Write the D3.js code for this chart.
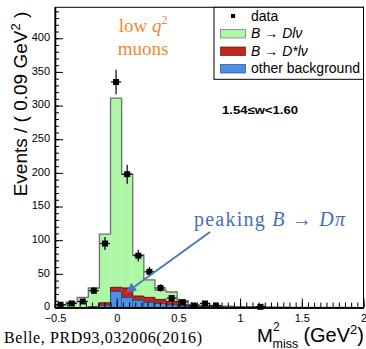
<!DOCTYPE html>
<html><head><meta charset="utf-8">
<script src="https://cdn.jsdelivr.net/npm/d3@7"></script>
<style>body{margin:0;background:#fff}svg{display:block}</style>
</head><body>
<svg id="c" width="366" height="349"></svg>
<script>
// ---- data ----
const binCenters = [-0.455,-0.365,-0.275,-0.185,-0.095,-0.005,0.085,0.175,0.265,0.355,0.445,0.535,0.625,0.715,0.805,0.895,0.985,1.075,1.165,1.255,1.345,1.435,1.525,1.615,1.705,1.795,1.885];
const binWidth = 0.09;
const dataCounts = [4,6,9,25,95,335,198,77,53,29,14,8,3,6,3,0,0,0,1,0,0,0,0,0,0,0,0];
const otherBkg = [0,0,0,0.5,3,24,15,11,8,6,4,2,1,1,0.5,0.3,0.2,0.2,0.1,0.1,0,0,0,0,0,0,0];
const dstarLnu = [0,0,0,0.5,4,6,14,6,7,6,5,2,1,1,0.5,0.2,0.3,0.1,0.1,0,0,0,0,0,0,0,0];
const dLnu     = [4,8,15,28,102,281,169,61,26,14,14,6,2,1,1,1.5,0.5,0.7,0.8,0.4,0.5,0.3,0.3,0.2,0.2,0.1,0.1];
const xMajorTicks = [-0.5,0,0.5,1,1.5,2];
const xTickLabels = ["\u22120.5","0","0.5","1","1.5","2"];
const yMajorTicks = [0,50,100,150,200,250,300,350,400];
const legendLabels = ["data","B \u2192 Dl\u03BD","B \u2192 D*l\u03BD","other background"];

// ---- layout ----
const svg = d3.select("#c");
const x = d3.scaleLinear().domain([-0.5, 2]).range([55, 363.5]);
const y = d3.scaleLinear().domain([0, 446]).range([307.5, 7.3]);
const colGreen = "#aef7a6", colRed = "#c3221d", colBlue = "#4a90e6";

const rows = binCenters.map((c,i)=>({c, other: otherBkg[i], dstar: dstarLnu[i], dlnu: dLnu[i], n: dataCounts[i]}));
const stack = d3.stack().keys(["other","dstar","dlnu"])(rows);
const fills = {other: colBlue, dstar: colRed, dlnu: colGreen};
const strokes = {other: "#2a4a7a", dstar: "#6e1010", dlnu: "#6f6f6f"};

const g = svg.append("g");
const order = [2,1,0];
order.forEach(k => {
  const layer = stack[k];
  const key = layer.key;
  g.append("g").selectAll("rect").data(layer).join("rect")
    .attr("x", d => x(d.data.c - binWidth/2))
    .attr("width", d => x(d.data.c + binWidth/2) - x(d.data.c - binWidth/2))
    .attr("y", d => y(d[1]))
    .attr("height", d => y(0) - y(d[1]))
    .attr("fill", fills[key])
    .attr("stroke", key === "other" ? strokes[key] : "none")
    .attr("stroke-width", key === "other" ? 0.5 : 0);
  const pts = [[binCenters[0]-binWidth/2, 0]];
  layer.forEach(d => pts.push([d.data.c - binWidth/2, d[1]]));
  const last = layer[layer.length-1];
  pts.push([last.data.c + binWidth/2, last[1]]);
  pts.push([last.data.c + binWidth/2, 0]);
  g.append("path")
    .attr("d", d3.line().x(p=>x(p[0])).y(p=>y(p[1])).curve(d3.curveStepAfter)(pts))
    .attr("fill","none").attr("stroke", strokes[key]).attr("stroke-width", key==="dlnu"?1.3:1);
});

// data points
const pts = rows.filter(d => d.n > 0);
const dp = svg.append("g");
dp.selectAll("line.v").data(pts).join("line")
  .attr("x1", d=>x(d.c)).attr("x2", d=>x(d.c))
  .attr("y1", d=>y(d.n + Math.sqrt(d.n))).attr("y2", d=>y(Math.max(0, d.n - Math.sqrt(d.n))))
  .attr("stroke","#000").attr("stroke-width",1.2);
dp.selectAll("line.h").data(pts).join("line")
  .attr("x1", d=>x(d.c - binWidth/2)+0.5).attr("x2", d=>x(d.c + binWidth/2)-0.5)
  .attr("y1", d=>y(d.n)).attr("y2", d=>y(d.n))
  .attr("stroke","#000").attr("stroke-width",1.2);
dp.selectAll("rect").data(pts).join("rect")
  .attr("x", d=>x(d.c)-3).attr("y", d=>y(d.n)-3).attr("width",6).attr("height",6).attr("fill","#000");

// frame
svg.append("rect").attr("x",55).attr("y",7.3).attr("width",363.5-55).attr("height",307.5-7.3)
  .attr("fill","none").attr("stroke","#000").attr("stroke-width",1);

// axes
const fontSans = "'Liberation Sans', Arial, Helvetica, sans-serif";
const yMinor = d3.range(0, 446, 10);
const yAx = svg.append("g").attr("transform","translate(55,0)");
yAx.call(d3.axisLeft(y).tickValues(yMinor).tickSizeInner(-4).tickSizeOuter(0).tickFormat(""));
yAx.append("g").call(d3.axisLeft(y).tickValues(yMajorTicks).tickSizeInner(-8).tickSizeOuter(0).tickPadding(5));
yAx.selectAll("text").attr("font-family", fontSans).attr("font-size", 11).attr("fill","#000").attr("dy","0.22em");
yAx.selectAll("path.domain").attr("stroke","#000").attr("stroke-width",1.3);

const xMinor = d3.range(-0.5, 2.0001, 0.05).map(v=>+v.toFixed(2));
const xAx = svg.append("g").attr("transform","translate(0,307.5)");
xAx.call(d3.axisBottom(x).tickValues(xMinor).tickSizeInner(-5).tickSizeOuter(0).tickFormat(""));
xAx.append("g").call(d3.axisBottom(x).tickValues(xMajorTicks).tickSizeInner(-9).tickSizeOuter(0).tickPadding(7)
  .tickFormat((d,i)=>xTickLabels[i]));
xAx.selectAll("text").attr("font-family", fontSans).attr("font-size", 11).attr("fill","#000");
xAx.selectAll("path.domain").attr("stroke","#000").attr("stroke-width",1.3);
svg.selectAll(".tick line").attr("stroke","#000");

// axis titles
const yt = svg.append("text").attr("transform","translate(27,104) rotate(-90)")
  .attr("text-anchor","middle").attr("font-family",fontSans).attr("font-size",19);
yt.append("tspan").text("Events / ( 0.09 GeV");
yt.append("tspan").attr("font-size",13).attr("dy",-7).text("2");
yt.append("tspan").attr("dy",7).text(" )");

// x title: M^2_miss (GeV^2) built from pieces
const xtRest = svg.append("text").attr("x",364).attr("y",342).attr("text-anchor","end")
  .attr("font-family",fontSans).attr("font-size",20);
xtRest.append("tspan").text("(GeV");
xtRest.append("tspan").attr("font-size",13).attr("dy",-8).text("2");
xtRest.append("tspan").attr("dy",8).text(")");
svg.append("text").attr("x",257).attr("y",342).attr("font-family",fontSans).attr("font-size",19).text("M");
svg.append("text").attr("x",273).attr("y",331).attr("font-family",fontSans).attr("font-size",12).text("2");
svg.append("text").attr("x",272.5).attr("y",347.5).attr("font-family",fontSans).attr("font-size",12.5).text("miss");

// legend
const lg = svg.append("g");
lg.append("rect").attr("x",214).attr("y",7.3).attr("width",363.5-214).attr("height",72)
  .attr("fill","#fff").attr("stroke","#000").attr("stroke-width",1);
const ly = [16, 33.5, 51, 68.5];
lg.append("rect").attr("x",231).attr("y",ly[0]-2).attr("width",4).attr("height",4).attr("fill","#000");
[colGreen,colRed,colBlue].forEach((c,i)=>{
  lg.append("rect").attr("x",220.5).attr("y",ly[i+1]-4).attr("width",25).attr("height",8.5)
    .attr("fill",c).attr("stroke", i===0 ? "#6f6f6f" : (i===1 ? "#6e1010" : "#2a4a7a")).attr("stroke-width",0.7);
});
legendLabels.forEach((t,i)=>{
  const tx = lg.append("text").attr("x",251).attr("y",ly[i]+4.5).attr("font-family",fontSans).attr("font-size",14);
  if (i===1 || i===2) {
    tx.append("tspan").attr("font-style","italic").text("B");
    tx.append("tspan").text(" \u2192 ");
    tx.append("tspan").attr("font-style","italic").text(i===1 ? "Dl\u03BD" : "D*l\u03BD");
  } else tx.text(t);
});

// annotations
svg.append("text").attr("x",222).attr("y",114).attr("font-family",fontSans).attr("font-weight","bold")
  .attr("font-size",11).attr("textLength",76).attr("lengthAdjust","spacingAndGlyphs").text("1.54\u2264w<1.60");

const fontSerif = "'Liberation Serif', 'Times New Roman', serif";
const orange = "#f08a2c";
const lq = svg.append("text").attr("x",143).attr("y",32).attr("text-anchor","middle")
  .attr("font-family",fontSerif).attr("font-size",19).attr("fill",orange);
lq.append("tspan").text("low ");
lq.append("tspan").attr("font-style","italic").text("q");
lq.append("tspan").attr("font-size",12).attr("dy",-8).text("2");
svg.append("text").attr("x",143).attr("y",55).attr("text-anchor","middle")
  .attr("font-family",fontSerif).attr("font-size",19).attr("fill",orange).text("muons");

const blueTxt = "#4470b8";
const pk = svg.append("text").attr("x",194).attr("y",226)
  .attr("font-family",fontSerif).attr("font-size",20).attr("fill",blueTxt)
  .attr("textLength",151).attr("lengthAdjust","spacing");
pk.append("tspan").text("peaking ");
pk.append("tspan").attr("font-style","italic").text("B");
pk.append("tspan").text(" \u2192 ");
pk.append("tspan").attr("font-style","italic").text("D\u03C0");

// arrow
const defs = svg.append("defs");
defs.append("marker").attr("id","ah").attr("viewBox","0 0 10 10").attr("refX",9).attr("refY",5)
  .attr("markerWidth",5).attr("markerHeight",5).attr("orient","auto")
  .append("path").attr("d","M0,0 L10,5 L0,10 z").attr("fill","#4a78bd");
svg.append("line").attr("x1",210).attr("y1",232).attr("x2",127).attr("y2",292)
  .attr("stroke","#4a78bd").attr("stroke-width",2).attr("marker-end","url(#ah)");

svg.append("text").attr("x",4).attr("y",343).attr("font-family",fontSerif).attr("font-size",16)
  .attr("textLength",198).attr("lengthAdjust","spacing").text("Belle, PRD93,032006(2016)");
</script>
</body></html>
